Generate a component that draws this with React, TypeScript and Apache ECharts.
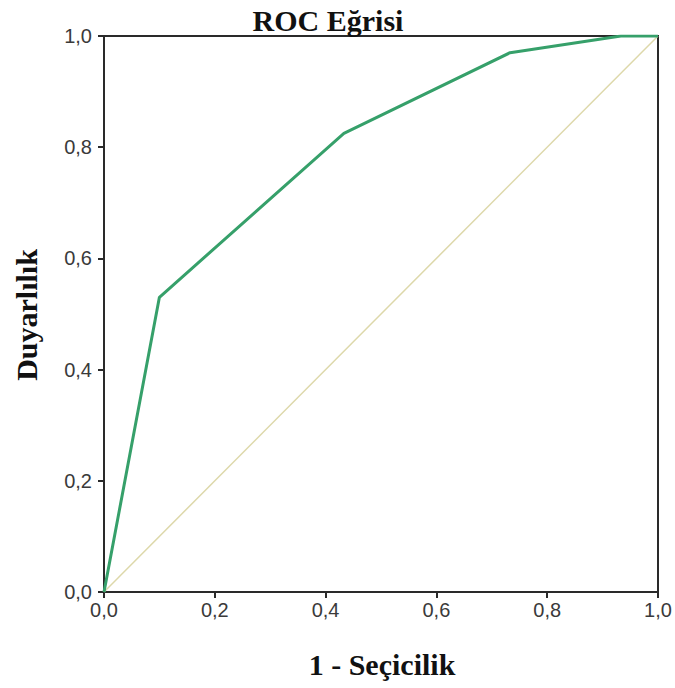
import React, { useEffect, useRef } from "react";
import * as echarts from "echarts";

const rocX = [0, 0.1, 0.433, 0.733, 0.933, 1.0];
const rocY = [0, 0.53, 0.825, 0.97, 1.0, 1.0];
const refX = [0, 1];
const refY = [0, 1];
const titleText = "ROC Eğrisi";
const xTitle = "1 - Seçicilik";
const yTitle = "Duyarlılık";

const fmt = (v: number) => v.toFixed(1).replace(".", ",");
const serifBold = "bold 30px 'Liberation Serif', 'Times New Roman', serif";

export default function App() {
  const ref = useRef<HTMLDivElement>(null);
  useEffect(() => {
    if (!ref.current) return;
    const chart = echarts.init(ref.current, undefined, { renderer: "svg" });
    const axisCommon = {
      type: "value" as const,
      min: 0,
      max: 1,
      interval: 0.2,
      axisLine: { show: true, lineStyle: { color: "#2a2a2a", width: 2 } },
      axisTick: { show: true, inside: false, length: 6, lineStyle: { color: "#2a2a2a", width: 2 } },
      splitLine: { show: false },
      axisLabel: {
        formatter: fmt,
        color: "#3a3a3a",
        fontFamily: "'Liberation Sans', Arial, sans-serif",
        fontSize: 20,
      },
    };
    chart.setOption({
      animation: false,
      backgroundColor: "#fff",
      grid: {
        left: 104,
        right: 17,
        top: 36,
        bottom: 96,
        show: true,
        borderColor: "#2a2a2a",
        borderWidth: 2,
      },
      xAxis: { ...axisCommon, axisLabel: { ...axisCommon.axisLabel, margin: 8 } },
      yAxis: { ...axisCommon, axisLabel: { ...axisCommon.axisLabel, margin: 12 } },
      graphic: [
        {
          type: "text",
          x: 328,
          y: 20,
          style: {
            text: titleText,
            font: serifBold,
            fill: "#111",
            align: "center",
            verticalAlign: "middle",
          },
        },
        {
          type: "text",
          x: 382,
          y: 664,
          style: {
            text: xTitle,
            font: serifBold,
            fill: "#111",
            align: "center",
            verticalAlign: "middle",
          },
        },
        {
          type: "text",
          x: 26,
          y: 315,
          rotation: Math.PI / 2,
          style: {
            text: yTitle,
            font: serifBold,
            fill: "#111",
            align: "center",
            verticalAlign: "middle",
          },
        },
      ],
      series: [
        {
          type: "line",
          data: refX.map((x, i) => [x, refY[i]]),
          symbol: "none",
          lineStyle: { color: "#ddd8aa", width: 1.5 },
          z: 2,
        },
        {
          type: "line",
          data: rocX.map((x, i) => [x, rocY[i]]),
          symbol: "none",
          lineStyle: { color: "#36a06a", width: 3 },
          z: 3,
        },
      ],
    });
    return () => chart.dispose();
  }, []);
  return (
    <div
      ref={ref}
      style={{ position: "fixed", left: 0, top: 0, width: 675, height: 688 }}
    />
  );
}
